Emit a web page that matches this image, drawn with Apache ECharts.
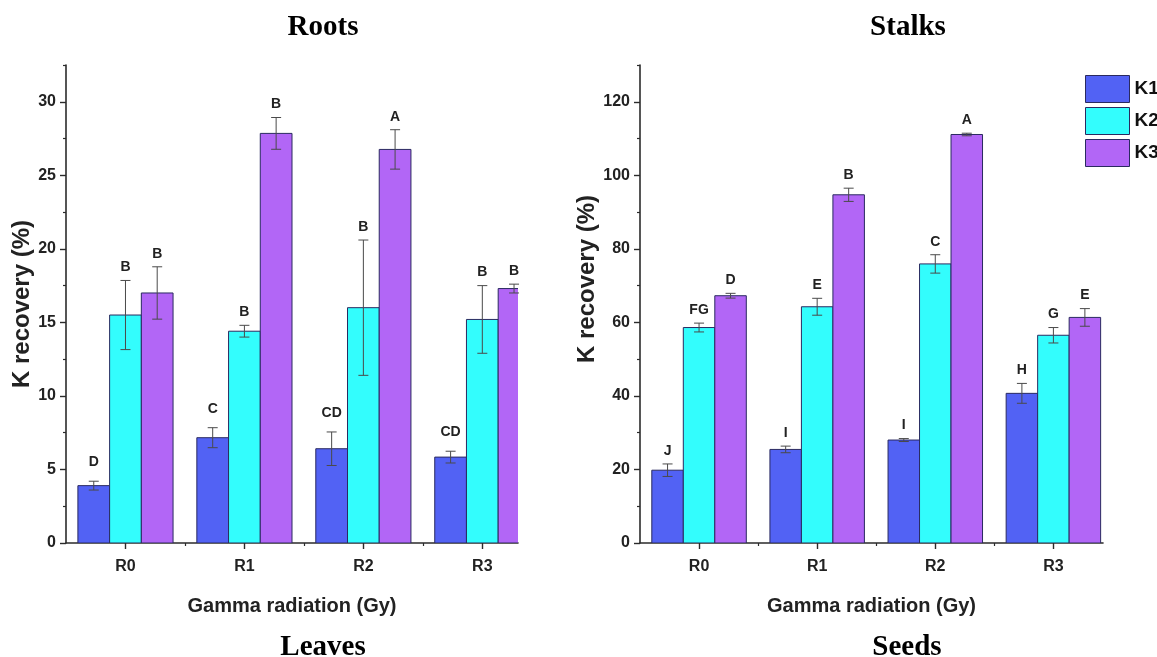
<!DOCTYPE html>
<html>
<head>
<meta charset="utf-8">
<script src="https://cdn.jsdelivr.net/npm/echarts@6/dist/echarts.min.js"></script>
<style>
  html, body { margin: 0; padding: 0; background: #ffffff; }
  #chart { width: 1157px; height: 657px; }
</style>
</head>
<body>
<div id="chart"></div>
<script>
// ---- data ----
const categories = ['R0', 'R1', 'R2', 'R3'];
const seriesNames = ['K1', 'K2', 'K3'];

// Roots: mean K recovery (%) and error half-widths
const rootsK1 = [3.9, 7.16, 6.41, 5.84];
const rootsK2 = [15.5, 14.4, 16.0, 15.2];
const rootsK3 = [17.0, 27.85, 26.76, 17.3];
const rootsK1Err = [0.3, 0.68, 1.14, 0.4];
const rootsK2Err = [2.35, 0.4, 4.6, 2.3];
const rootsK3Err = [1.78, 1.08, 1.34, 0.3];
const rootsK1Letters = ['D', 'C', 'CD', 'CD'];
const rootsK2Letters = ['B', 'B', 'B', 'B'];
const rootsK3Letters = ['B', 'B', 'A', 'B'];
const rootsTicks = [0, 5, 10, 15, 20, 25, 30];

// Stalks: mean K recovery (%) and error half-widths
const stalksK1 = [19.8, 25.45, 28.0, 40.7];
const stalksK2 = [58.6, 64.25, 75.9, 56.5];
const stalksK3 = [67.25, 94.7, 111.1, 61.35];
const stalksK1Err = [1.7, 0.9, 0.4, 2.7];
const stalksK2Err = [1.2, 2.3, 2.5, 2.1];
const stalksK3Err = [0.65, 1.8, 0.35, 2.4];
const stalksK1Letters = ['J', 'I', 'I', 'H'];
const stalksK2Letters = ['FG', 'E', 'C', 'G'];
const stalksK3Letters = ['D', 'B', 'A', 'E'];
const stalksTicks = [0, 20, 40, 60, 80, 100, 120];

// ---- styling ----
const colors = ['#5262F4', '#33FDFD', '#B266F6'];
const barBorder = '#2a2a60';
const sans = 'Liberation Sans, Arial, sans-serif';
const serif = 'Liberation Serif, Times New Roman, serif';
const axisColor = '#2b2b2b';
const groupFrac = 0.8;                 // share of each category band filled by bars
const barUnit = groupFrac / seriesNames.length;

const panels = [
  {
    grid: { left: 66, top: 65, width: 452, height: 478 },
    xMax: 3.3, yMax: 32.5, ticks: rootsTicks,
    nameGap: 32, namePad: [0, 0, 0, 0],
    means: [rootsK1, rootsK2, rootsK3],
    errs: [rootsK1Err, rootsK2Err, rootsK3Err],
    letters: [rootsK1Letters, rootsK2Letters, rootsK3Letters],
    letterGap: [19, 13, 13]
  },
  {
    grid: { left: 640, top: 65, width: 463, height: 478 },
    xMax: 3.42, yMax: 130, ticks: stalksTicks,
    nameGap: 37, namePad: [0, 0, 0, 50],
    means: [stalksK1, stalksK2, stalksK3],
    errs: [stalksK1Err, stalksK2Err, stalksK3Err],
    letters: [stalksK1Letters, stalksK2Letters, stalksK3Letters],
    letterGap: [13, 13, 13]
  }
];

const grids = [], xAxes = [], yAxes = [], series = [];
const catIdx = categories.map((c, i) => i);
const catMid = categories.slice(1).map((c, i) => i + 0.5);

panels.forEach((p, pi) => {
  grids.push(Object.assign({ containLabel: false }, p.grid));
  const tickStep = p.ticks[1] - p.ticks[0];
  const minorY = [];
  for (let v = tickStep / 2; v <= p.yMax + 1e-9; v += tickStep) minorY.push(v);

  // x axis with category centres
  xAxes.push({
    type: 'value', gridIndex: pi, position: 'bottom', min: -0.5, max: p.xMax,
    splitLine: { show: false },
    axisLine: { show: true, onZero: false, lineStyle: { color: axisColor, width: 1.6 } },
    axisTick: { show: true, customValues: catIdx, length: 6, lineStyle: { color: axisColor, width: 1.4 } },
    axisLabel: {
      customValues: catIdx, formatter: v => categories[Math.round(v)],
      color: '#222', fontFamily: sans, fontWeight: 'bold', fontSize: 16, margin: 16
    },
    name: 'Gamma radiation (Gy)', nameLocation: 'middle', nameGap: 53,
    nameTextStyle: { color: '#222', fontFamily: sans, fontWeight: 'bold', fontSize: 20 }
  });
  // minor x ticks between categories
  xAxes.push({
    type: 'value', gridIndex: pi, position: 'bottom', min: -0.5, max: p.xMax,
    splitLine: { show: false }, axisLine: { show: false, onZero: false },
    axisTick: { show: true, customValues: catMid, length: 3, lineStyle: { color: axisColor, width: 1.2 } },
    axisLabel: { show: false }
  });
  // y axis
  yAxes.push({
    type: 'value', gridIndex: pi, position: 'left', min: 0, max: p.yMax,
    splitLine: { show: false },
    axisLine: { show: true, onZero: false, lineStyle: { color: axisColor, width: 1.6 } },
    axisTick: { show: true, customValues: p.ticks, length: 6, lineStyle: { color: axisColor, width: 1.4 } },
    axisLabel: {
      customValues: p.ticks, color: '#222', fontFamily: sans, fontWeight: 'bold', fontSize: 16, margin: 10
    },
    name: 'K recovery (%)', nameLocation: 'middle', nameGap: p.nameGap, nameRotate: 90,
    nameTextStyle: {
      color: '#222', fontFamily: sans, fontWeight: 'bold', fontSize: 24, padding: p.namePad
    }
  });
  // minor y ticks
  yAxes.push({
    type: 'value', gridIndex: pi, position: 'left', min: 0, max: p.yMax,
    splitLine: { show: false }, axisLine: { show: false, onZero: false },
    axisTick: { show: true, customValues: minorY, length: 3, lineStyle: { color: axisColor, width: 1.2 } },
    axisLabel: { show: false }
  });

  seriesNames.forEach((name, k) => {
    const means = p.means[k], errs = p.errs[k], letters = p.letters[k];
    // bars, clipped to the plot frame
    series.push({
      type: 'custom', name: name, xAxisIndex: pi * 2, yAxisIndex: pi * 2,
      data: means.map((m, i) => [i, m]),
      encode: { x: 0, y: 1 }, clip: true, z: 2, silent: true,
      itemStyle: { color: colors[k], borderColor: barBorder, borderWidth: 1 },
      renderItem: (params, api) => {
        const x = api.value(0) + (k - 1) * barUnit;
        const a = api.coord([x - barUnit / 2, api.value(1)]);
        const b = api.coord([x + barUnit / 2, 0]);
        return {
          type: 'rect',
          shape: { x: a[0], y: a[1], width: b[0] - a[0], height: b[1] - a[1] },
          style: api.style()
        };
      }
    });
    // error bars with significance letters
    series.push({
      type: 'custom', xAxisIndex: pi * 2, yAxisIndex: pi * 2,
      data: means.map((m, i) => [i, m, errs[i]]),
      encode: { x: 0, y: 1 }, z: 5, silent: true,
      renderItem: (params, api) => {
        const i = params.dataIndex;
        const x = api.value(0) + (k - 1) * barUnit;
        const m = api.value(1), e = api.value(2);
        const top = api.coord([x, m + e]);
        const bot = api.coord([x, m - e]);
        const ls = { stroke: '#4a4a4a', lineWidth: 1 };
        return {
          type: 'group',
          children: [
            { type: 'line', shape: { x1: top[0], y1: top[1], x2: bot[0], y2: bot[1] }, style: ls },
            { type: 'line', shape: { x1: top[0] - 5, y1: top[1], x2: top[0] + 5, y2: top[1] }, style: ls },
            { type: 'line', shape: { x1: bot[0] - 5, y1: bot[1], x2: bot[0] + 5, y2: bot[1] }, style: ls },
            {
              type: 'text', x: top[0], y: top[1] - p.letterGap[k],
              style: {
                text: letters[i], align: 'center', verticalAlign: 'middle',
                fill: '#222', font: 'bold 14px ' + sans
              }
            }
          ]
        };
      }
    });
  });
});

const titleStyle = { color: '#000', fontFamily: serif, fontWeight: 'bold', fontSize: 29 };
const chart = echarts.init(document.getElementById('chart'), null, { renderer: 'canvas' });
chart.setOption({
  animation: false,
  backgroundColor: '#ffffff',
  title: [
    { text: 'Roots', left: 318, top: 8, textAlign: 'center', textStyle: titleStyle },
    { text: 'Stalks', left: 903, top: 8, textAlign: 'center', textStyle: titleStyle },
    { text: 'Leaves', left: 318, top: 628, textAlign: 'center', textStyle: titleStyle },
    { text: 'Seeds', left: 902, top: 628, textAlign: 'center', textStyle: titleStyle }
  ],
  legend: {
    data: seriesNames, orient: 'vertical', left: 1080, top: 70,
    itemWidth: 44, itemHeight: 27, itemGap: 4, selectedMode: false, icon: 'rect',
    itemStyle: { borderColor: barBorder, borderWidth: 1 },
    textStyle: { color: '#111', fontFamily: sans, fontWeight: 'bold', fontSize: 19 }
  },
  grid: grids, xAxis: xAxes, yAxis: yAxes, series: series
});
</script>
</body>
</html>
